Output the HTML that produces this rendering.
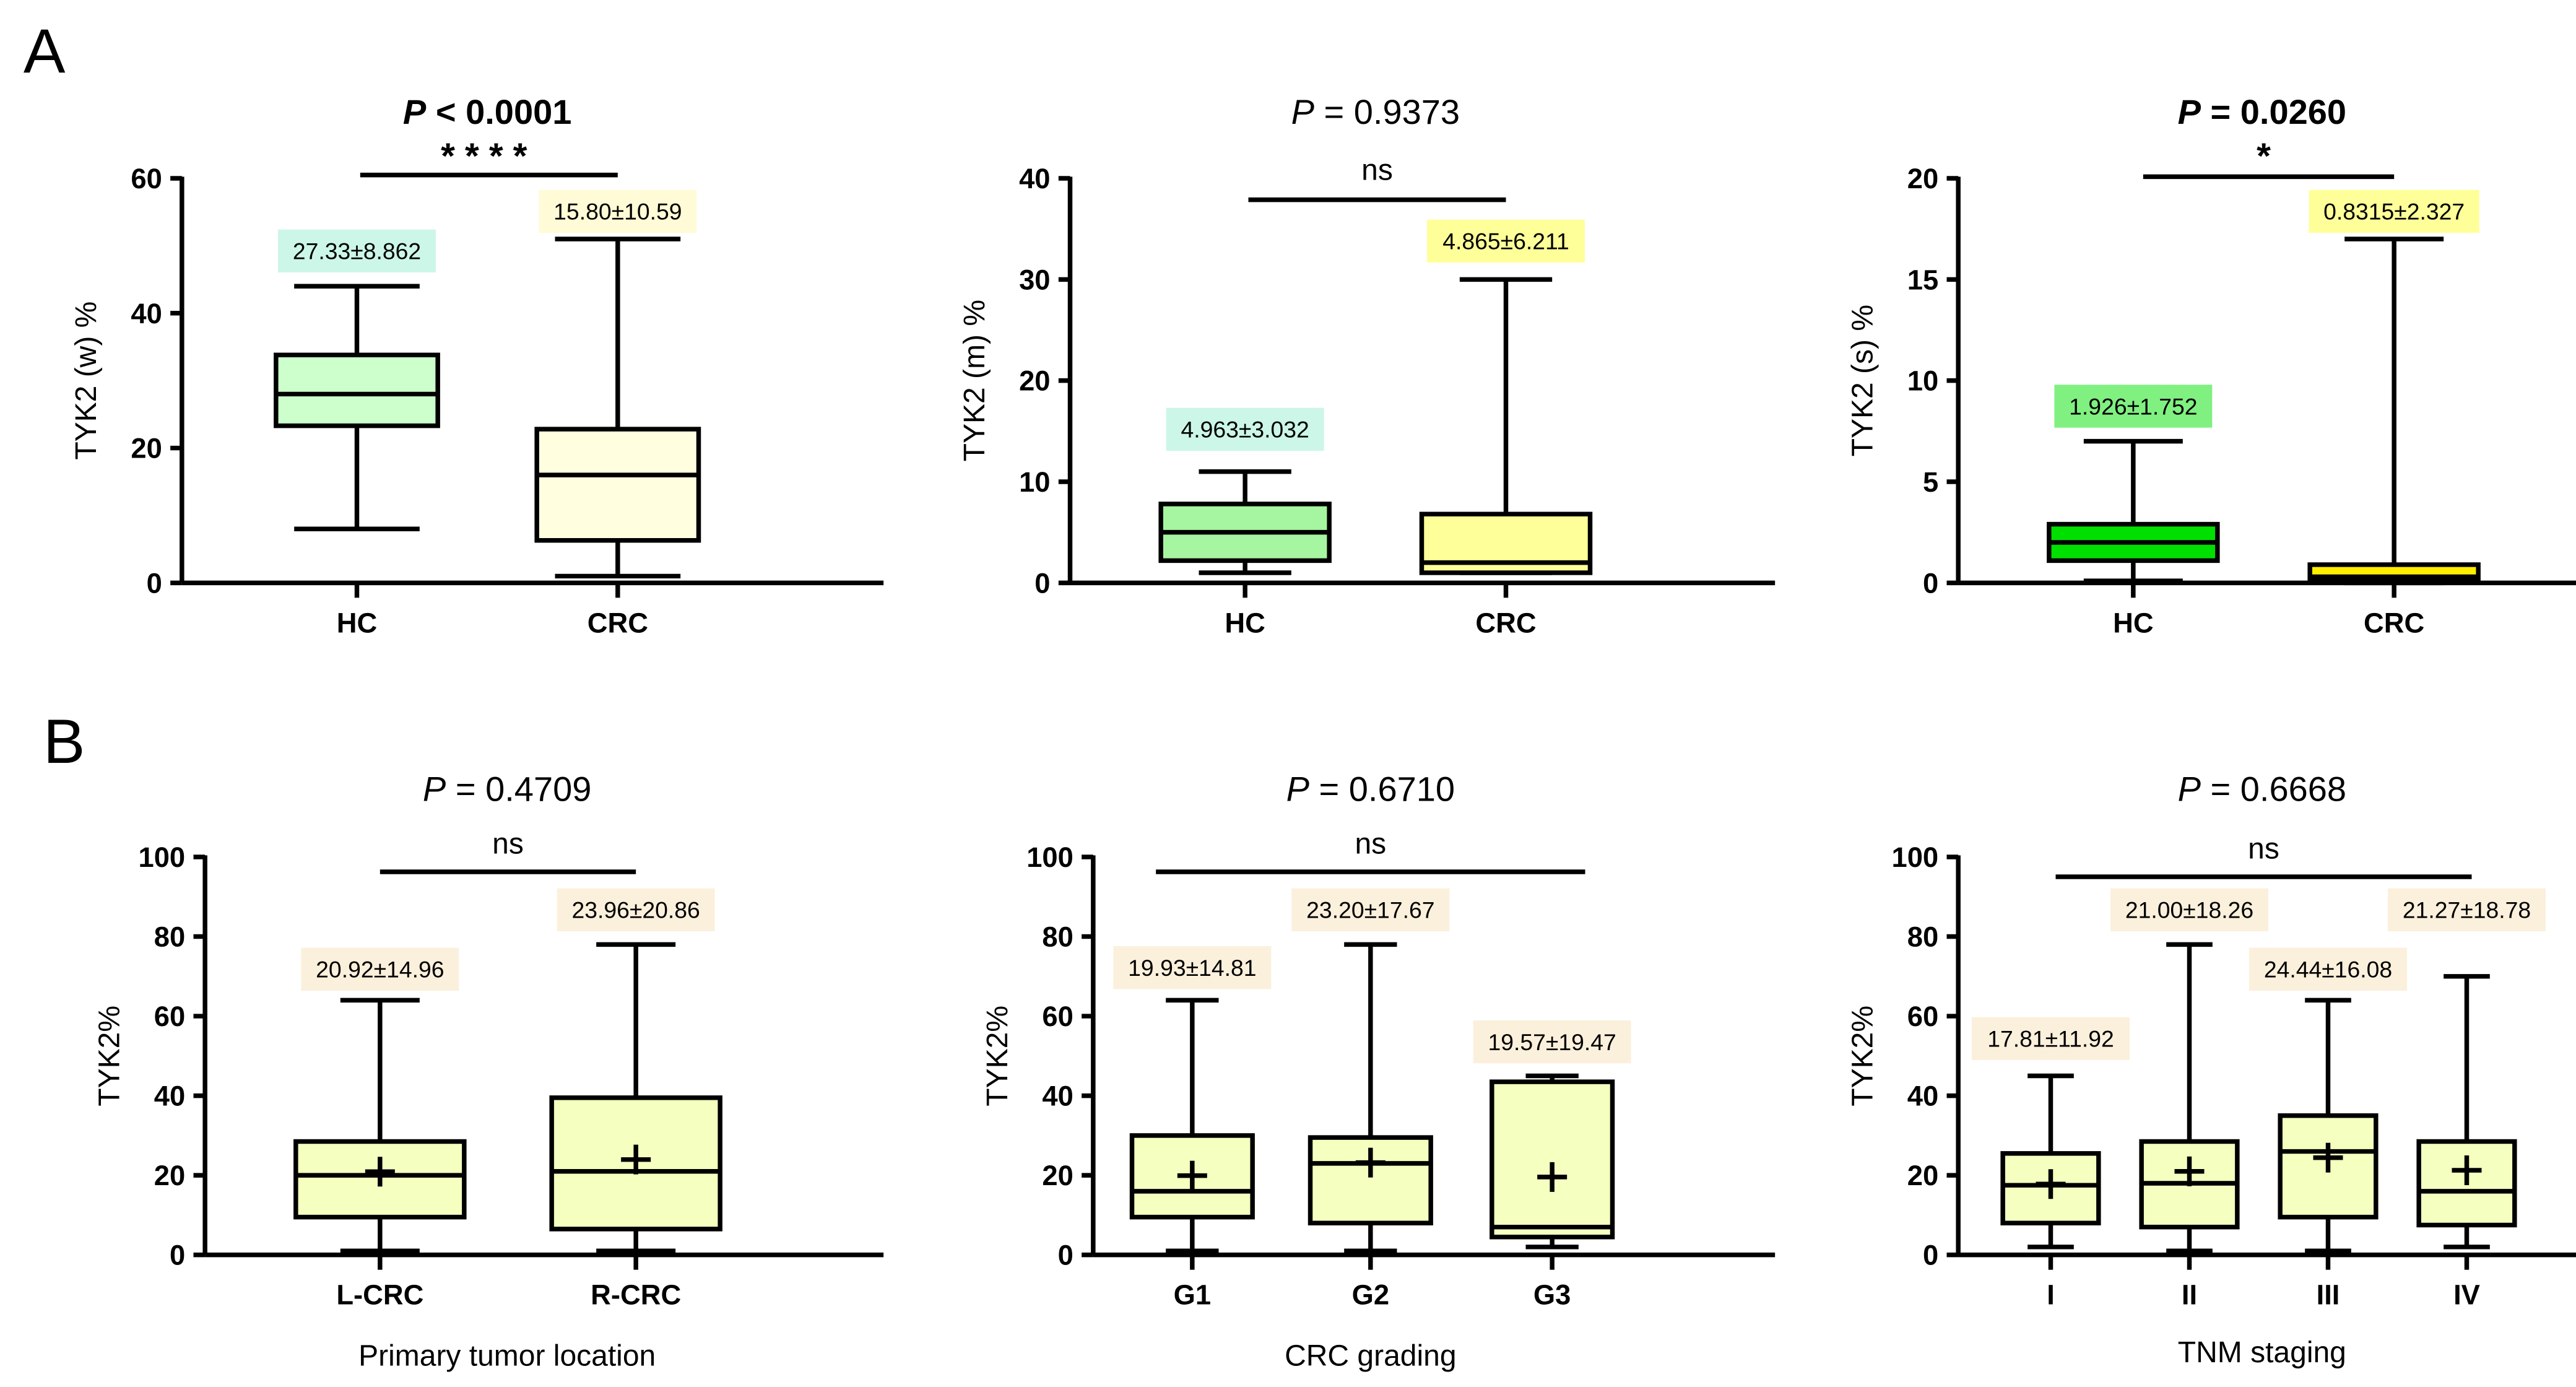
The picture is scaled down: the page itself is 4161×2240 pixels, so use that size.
<!DOCTYPE html>
<html><head><meta charset="utf-8"><style>
html,body{margin:0;padding:0;background:#fff}
svg{display:block;font-family:"Liberation Sans",Arial,sans-serif}
</style></head><body>
<svg id="fig" width="4161" height="2240" viewBox="0 0 1560 840" xmlns="http://www.w3.org/2000/svg">
<text x="14" y="44" font-size="38">A</text>
<text x="26" y="462" font-size="38">B</text>
</svg>
<script>
// ---- data ----
const a1Cats=["HC","CRC"];
const a1Min=[8,1], a1Q1=[23.3,6.3], a1Med=[28,16], a1Q3=[33.8,22.8], a1Max=[44,51];
const a1Labels=["27.33±8.862","15.80±10.59"];
const a1Ticks=[0,20,40,60];

const a2Cats=["HC","CRC"];
const a2Min=[1,1], a2Q1=[2.2,1], a2Med=[5,2], a2Q3=[7.8,6.8], a2Max=[11,30];
const a2Labels=["4.963±3.032","4.865±6.211"];
const a2Ticks=[0,10,20,30,40];

const a3Cats=["HC","CRC"];
const a3Min=[0.1,0], a3Q1=[1.1,0.2], a3Med=[2,0.3], a3Q3=[2.9,0.9], a3Max=[7,17];
const a3Labels=["1.926±1.752","0.8315±2.327"];
const a3Ticks=[0,5,10,15,20];

const b1Cats=["L-CRC","R-CRC"];
const b1Min=[1,1], b1Q1=[9.5,6.5], b1Med=[20,21], b1Q3=[28.5,39.5], b1Max=[64,78], b1Mean=[20.92,23.96];
const b1Labels=["20.92±14.96","23.96±20.86"];

const b2Cats=["G1","G2","G3"];
const b2Min=[1,1,2], b2Q1=[9.5,8,4.5], b2Med=[16,23,7], b2Q3=[30,29.5,43.5], b2Max=[64,78,45], b2Mean=[19.93,23.20,19.57];
const b2Labels=["19.93±14.81","23.20±17.67","19.57±19.47"];

const b3Cats=["I","II","III","IV"];
const b3Min=[2,1,1,2], b3Q1=[8,7,9.5,7.5], b3Med=[17.5,18,26,16], b3Q3=[25.5,28.5,35,28.5], b3Max=[45,78,64,70], b3Mean=[17.81,21.0,24.44,21.27];
const b3Labels=["17.81±11.92","21.00±18.26","24.44±16.08","21.27±18.78"];
const bTicks=[0,20,40,60,80,100];

const svg=document.getElementById('fig');
const NS="http://www.w3.org/2000/svg";
function el(tag,attrs,text){const e=document.createElementNS(NS,tag);for(const k in attrs)e.setAttribute(k,attrs[k]);if(text!==undefined)e.textContent=text;svg.appendChild(e);return e;}

function panel(p){
  const y=v=>p.y0-(v/p.vmax)*(p.y0-p.y1);
  const ln=(x1,y1,x2,y2,name)=>{const l=el('line',{x1,y1,x2,y2,stroke:'#000','stroke-width':2.8});
    
    return l;};
  ln(p.ax,p.y0,p.ax,p.y1-1,p.id+'-y-axis');
  ln(p.ax,p.y0,p.xend,p.y0,p.id+'-x-axis');
  p.ticks.forEach(t=>{ln(p.ax-7,y(t),p.ax,y(t),p.id+'-y-tick');
    const tx=el('text',{x:p.ax-12,y:y(t)+6,'font-size':17,'font-weight':'bold','text-anchor':'end'},t);
    
    });
  const yt=el('text',{x:0,y:0,'font-size':18,'text-anchor':'middle',transform:`translate(${p.ax-52},${(p.y0+p.y1)/2}) rotate(-90)`},p.ytitle);
  
  
  p.cats.forEach((c,i)=>{
    const cx=p.xs[i], hw=p.bw/2;
    ln(cx,p.y0,cx,p.y0+9,p.id+'-x-tick');
    const xl=el('text',{x:cx,y:p.y0+30,'font-size':17,'font-weight':'bold','text-anchor':'middle'},c);
    
    
    ln(cx,y(p.max[i]),cx,y(p.q3[i]),p.id+'-whisker-upper');
    ln(cx,y(p.min[i]),cx,y(p.q1[i]),p.id+'-whisker-lower');
    ln(cx-p.cap,y(p.max[i]),cx+p.cap,y(p.max[i]),p.id+'-cap-upper');
    ln(cx-p.cap,y(p.min[i]),cx+p.cap,y(p.min[i]),p.id+'-cap-lower');
    const r=el('rect',{x:cx-hw,y:y(p.q3[i]),width:p.bw,height:y(p.q1[i])-y(p.q3[i]),fill:p.fills[i],stroke:'#000','stroke-width':2.8});
    
    
    ln(cx-hw,y(p.med[i]),cx+hw,y(p.med[i]),p.id+'-median');
    if(p.mean){ln(cx-9,y(p.mean[i]),cx+9,y(p.mean[i]),p.id+'-mean-h');ln(cx,y(p.mean[i])-9,cx,y(p.mean[i])+9,p.id+'-mean-v');}
    const ly=p.labY[i], w=p.labels[i].length*7.6+12;
    const lb=el('rect',{x:cx-w/2,y:ly-13,width:w,height:26,fill:p.labFill[i]});
    
    
    const lt=el('text',{x:cx,y:ly+5,'font-size':14,'text-anchor':'middle'},p.labels[i]);
    
    
  });
  const tt=el('text',{x:p.titleX,y:p.titleY,'font-size':21,'text-anchor':'middle','font-weight':p.bold?'bold':'normal'});
  
  
  const ts=document.createElementNS(NS,'tspan');ts.setAttribute('font-style','italic');ts.textContent='P';tt.appendChild(ts);
  tt.appendChild(document.createTextNode(p.ptext));
  ln(p.brX1,p.brY,p.brX2,p.brY,p.id+'-significance-bracket');
  const st=el('text',{x:(p.brX1+p.brX2)/2,y:p.sigY,'font-size':p.sig==='ns'?18:22,'font-weight':p.sig==='ns'?'normal':'bold','text-anchor':'middle','letter-spacing':p.sig==='ns'?0:6},p.sig);
  
  
  if(p.xtitle){const xt=el('text',{x:p.titleX,y:p.xtY,'font-size':18,'text-anchor':'middle'},p.xtitle);
    
    }
}

panel({id:'a1',ax:110,xend:535,y0:353,y1:108,vmax:60,ticks:a1Ticks,ytitle:'TYK2 (w) %',cats:a1Cats,xs:[216,374],bw:98,cap:38,
  min:a1Min,q1:a1Q1,med:a1Med,q3:a1Q3,max:a1Max,fills:['#ccffcc','#ffffe0'],labels:a1Labels,labY:[152,128],labFill:['#ccf7e8','#fffbd6'],
  titleX:295,titleY:75,bold:true,ptext:' < 0.0001',brX1:218,brX2:374,brY:106,sig:'****',sigY:102});
panel({id:'a2',ax:648,xend:1075,y0:353,y1:108,vmax:40,ticks:a2Ticks,ytitle:'TYK2 (m) %',cats:a2Cats,xs:[754,912],bw:102,cap:28,
  min:a2Min,q1:a2Q1,med:a2Med,q3:a2Q3,max:a2Max,fills:['#a6f5a0','#ffff99'],labels:a2Labels,labY:[260,146],labFill:['#ccf7e8','#ffff99'],
  titleX:833,titleY:75,bold:false,ptext:' = 0.9373',brX1:756,brX2:912,brY:121,sig:'ns',sigY:109});
panel({id:'a3',ax:1186,xend:1612,y0:353,y1:108,vmax:20,ticks:a3Ticks,ytitle:'TYK2 (s) %',cats:a3Cats,xs:[1292,1450],bw:102,cap:30,
  min:a3Min,q1:a3Q1,med:a3Med,q3:a3Q3,max:a3Max,fills:['#00e000','#ffee00'],labels:a3Labels,labY:[246,128],labFill:['#80f080','#ffff99'],
  titleX:1370,titleY:75,bold:true,ptext:' = 0.0260',brX1:1298,brX2:1450,brY:107,sig:'*',sigY:102});
const bFill='#f5ffc0', bLab='#fbf0dc';
panel({id:'b1',ax:124,xend:535,y0:760,y1:519,vmax:100,ticks:bTicks,ytitle:'TYK2%',cats:b1Cats,xs:[230,385],bw:102,cap:24,
  min:b1Min,q1:b1Q1,med:b1Med,q3:b1Q3,max:b1Max,mean:b1Mean,fills:[bFill,bFill],labels:b1Labels,labY:[587,551],labFill:[bLab,bLab],
  titleX:307,titleY:485,bold:false,ptext:' = 0.4709',brX1:230,brX2:385,brY:528,sig:'ns',sigY:517,xtitle:'Primary tumor location',xtY:827});
panel({id:'b2',ax:662,xend:1075,y0:760,y1:519,vmax:100,ticks:bTicks,ytitle:'TYK2%',cats:b2Cats,xs:[722,830,940],bw:73,cap:16,
  min:b2Min,q1:b2Q1,med:b2Med,q3:b2Q3,max:b2Max,mean:b2Mean,fills:[bFill,bFill,bFill],labels:b2Labels,labY:[586,551,631],labFill:[bLab,bLab,bLab],
  titleX:830,titleY:485,bold:false,ptext:' = 0.6710',brX1:700,brX2:960,brY:528,sig:'ns',sigY:517,xtitle:'CRC grading',xtY:827});
panel({id:'b3',ax:1186,xend:1612,y0:760,y1:519,vmax:100,ticks:bTicks,ytitle:'TYK2%',cats:b3Cats,xs:[1242,1326,1410,1494],bw:58,cap:14,
  min:b3Min,q1:b3Q1,med:b3Med,q3:b3Q3,max:b3Max,mean:b3Mean,fills:[bFill,bFill,bFill,bFill],labels:b3Labels,labY:[629,551,587,551],labFill:[bLab,bLab,bLab,bLab],
  titleX:1370,titleY:485,bold:false,ptext:' = 0.6668',brX1:1245,brX2:1497,brY:531,sig:'ns',sigY:520,xtitle:'TNM staging',xtY:825});
</script>
</body></html>
